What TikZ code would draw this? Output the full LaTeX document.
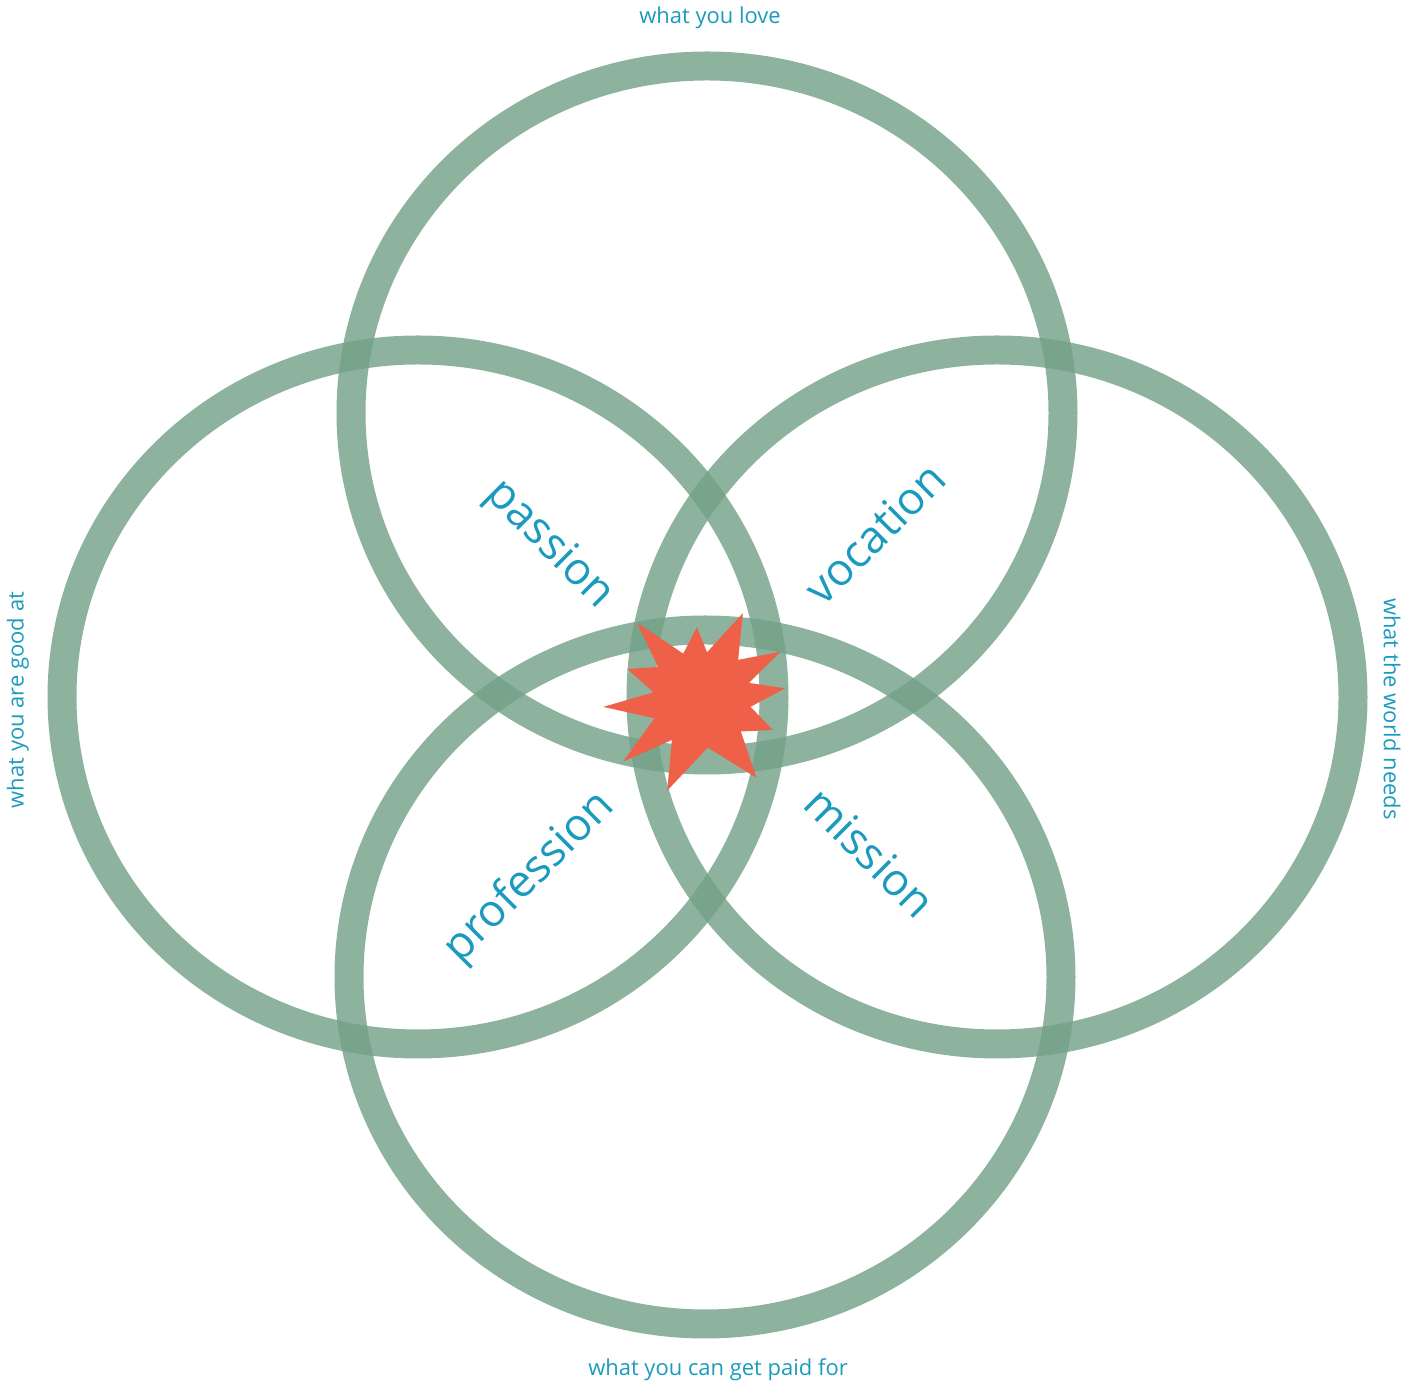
\documentclass[tikz,border=0pt]{standalone}
\usepackage{fontspec}
\setmainfont{Open Sans}
\usetikzlibrary{positioning}

\definecolor{ringgreen}{RGB}{113,160,134}
\definecolor{labelblue}{RGB}{26,155,190}
\definecolor{burst}{RGB}{238,96,72}

\tikzset{
    ring/.style={draw=ringgreen, draw opacity=0.8, line width=0.58cm},
    bigword/.style={text=labelblue, font=\fontsize{25.5}{30}\selectfont, inner sep=0pt},
    sideword/.style={text=labelblue, font=\fontsize{12.5}{15}\selectfont, inner sep=0pt}
}

\begin{document}
\begin{tikzpicture}[x=0.02cm, y=0.02cm]
    \useasboundingbox (0,0) rectangle (1421,1386);
    % circle centres
    \coordinate (love) at (707,973);
    \coordinate (good) at (418,689);
    \coordinate (needs) at (997,689);
    \coordinate (paid) at (705,409);
    \coordinate (core) at (702,686);
    % the four rings
    \draw[ring] (love) ellipse [x radius=356, y radius=347];
    \draw[ring] (good) ellipse [x radius=356, y radius=347];
    \draw[ring] (needs) ellipse [x radius=356, y radius=347];
    \draw[ring] (paid) ellipse [x radius=356, y radius=347];
    % star in the middle
    \begin{scope}[shift={(core)}]
        \fill[burst] (8:84) -- (20:50) -- (31.6:92) -- (48:54) -- (64.8:96) -- (84:48)
            -- (94:73) -- (112:50) -- (130:101) -- (143:55) -- (157.5:81) -- (171:49)
            -- (184:99) -- (201:51) -- (218:100) -- (233:50) -- (249:97) -- (277:48)
            -- (305:95) -- (321:50) -- (337:77) -- (352:49) -- cycle;
    \end{scope}
    % overlap labels
    \node[bigword, rotate=-45] (passion) at (549,841) {passion};
    \node[bigword, rotate=45] (vocation) at (875,853) {vocation};
    \node[bigword, rotate=45] (profession) at (530,508) {profession};
    \node[bigword, rotate=-45] (mission) at (870,534) {mission};
    % outer labels
    \node[sideword] (toplbl) at (710,1368) {what you love};
    \node[sideword, rotate=90] (leftlbl) at (18,686) {what you are good at};
    \node[sideword, rotate=-90] (rightlbl) at (1392,677) {what the world needs};
    \node[sideword] (bottomlbl) at (718,16) {what you can get paid for};
\end{tikzpicture}
\end{document}
